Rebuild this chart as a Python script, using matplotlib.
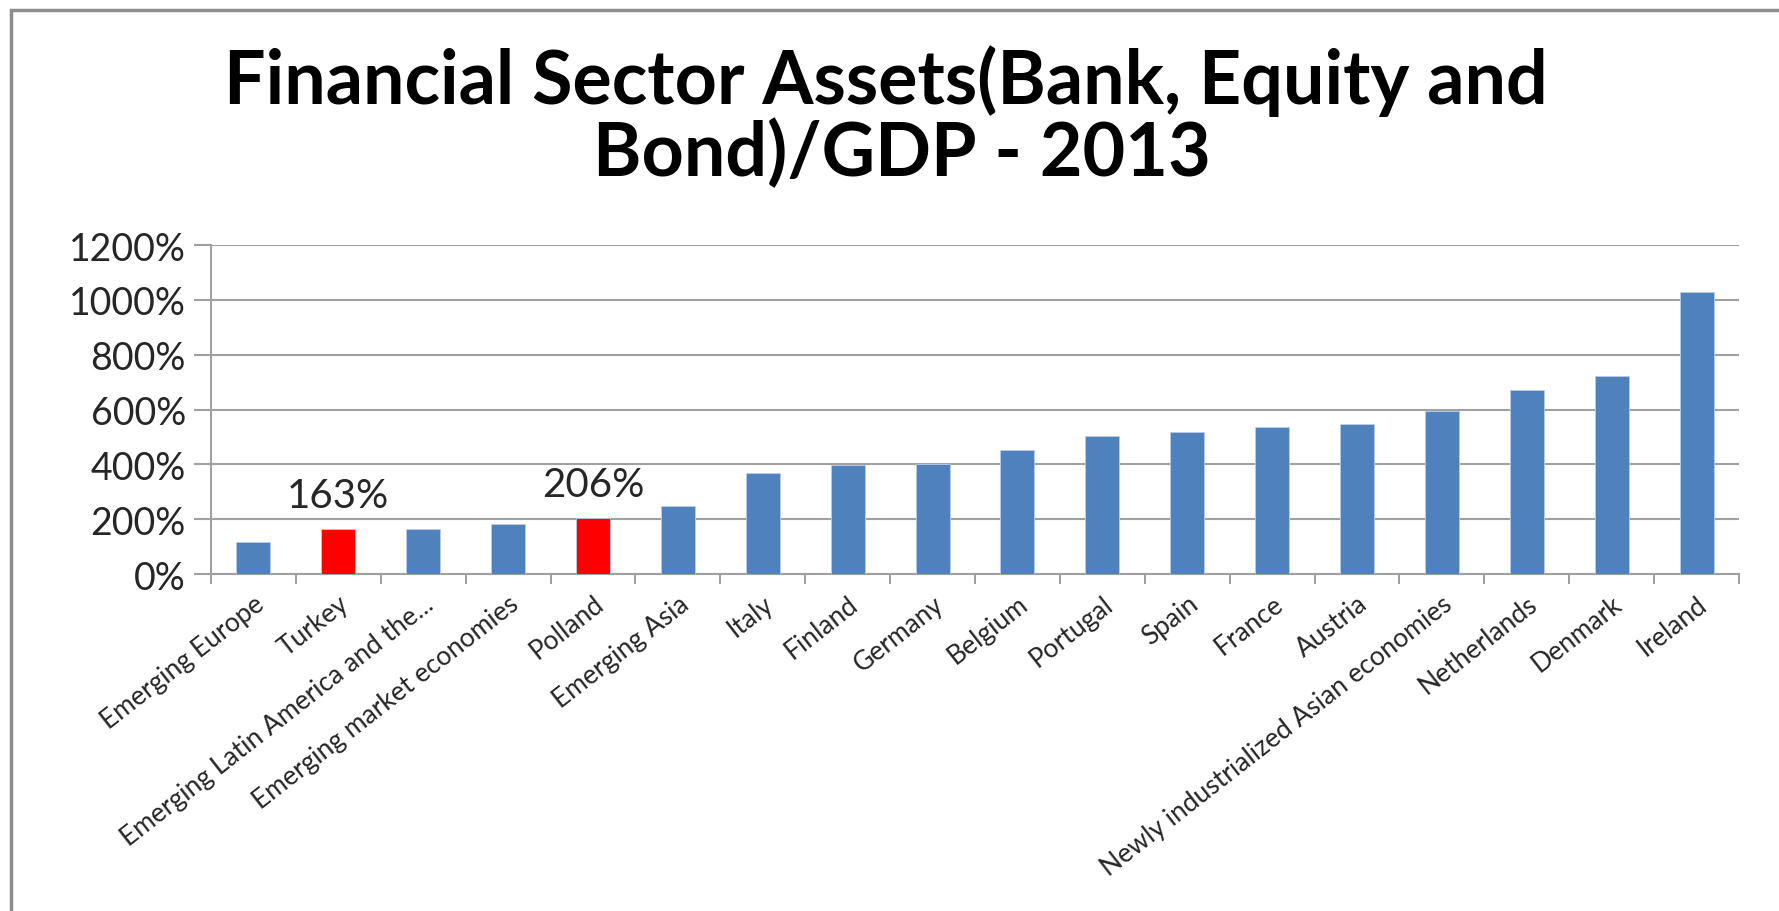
import matplotlib.pyplot as plt
from matplotlib.patches import Rectangle
from matplotlib.ticker import FuncFormatter, FixedLocator
import numpy as np

categories = ['Emerging Europe', 'Turkey', 'Emerging Latin America and the...',
              'Emerging market economies', 'Polland', 'Emerging Asia', 'Italy',
              'Finland', 'Germany', 'Belgium', 'Portugal', 'Spain', 'France',
              'Austria', 'Newly industrialized Asian economies', 'Netherlands',
              'Denmark', 'Ireland']
values = [118, 163, 163, 183, 203, 249, 368, 399, 400, 452, 503, 517, 535,
          548, 595, 670, 723, 1030]
highlight = ['Turkey', 'Polland']
label_text = {'Turkey': '163%', 'Polland': '206%'}

blue = '#4F81BD'
red = '#FF0000'

plt.rcParams['font.family'] = ['Lato', 'DejaVu Sans']

fig = plt.figure(figsize=(17.79, 9.12), dpi=100)
fig.patch.set_facecolor('white')

# outer chart frame (cropped at right/bottom like the screenshot)
fig.patches.append(Rectangle((11 / 1779, -0.05), 1.2, 1 - 11 / 912 + 0.05,
                             transform=fig.transFigure, fill=False,
                             edgecolor='#8c8c8c', linewidth=2.5))

ax = fig.add_axes([211 / 1779, 1 - 575 / 912, (1739 - 211) / 1779, (575 - 246) / 912])

x = np.arange(len(categories))
colors = [red if c in highlight else blue for c in categories]
ax.bar(x, values, width=0.4, color=colors, edgecolor='#B9CDE5', linewidth=0.6, zorder=3)

for i, c in enumerate(categories):
    if c in label_text:
        ax.text(i, values[i] + 125, label_text[c], ha='center', va='center',
                fontsize=29, color='#262626')

ax.set_xlim(-0.5, len(categories) - 0.5)
ax.set_ylim(0, 1200)
ax.set_yticks(np.arange(0, 1201, 200))
ax.yaxis.set_major_formatter(FuncFormatter(lambda v, p: '%d%%' % v))
ax.grid(axis='y', color='#A0A0A0', linewidth=1.5, zorder=0)

ax.set_xticks(x)
ax.set_xticklabels(categories, rotation=38, ha='right', rotation_mode='anchor',
                   fontsize=19, color='#262626')
ax.xaxis.set_minor_locator(FixedLocator(np.arange(-0.5, len(categories), 1)))
ax.tick_params(axis='x', which='major', length=0, pad=12)
ax.tick_params(axis='x', which='minor', length=7, width=1.2, color='#8c8c8c')
ax.tick_params(axis='y', length=12, width=1.5, color='#A0A0A0', labelsize=27,
               labelcolor='#262626', pad=6)

for s in ['top', 'right']:
    ax.spines[s].set_visible(False)
ax.spines['left'].set_color('#A0A0A0')
ax.spines['bottom'].set_color('#A0A0A0')
ax.spines['left'].set_linewidth(1.5)
ax.spines['bottom'].set_linewidth(1.5)

fig.text(0.498, 0.886, 'Financial Sector Assets(Bank, Equity and',
         ha='center', va='baseline', fontsize=53, fontweight='bold')
fig.text(0.507, 0.807, 'Bond)/GDP - 2013',
         ha='center', va='baseline', fontsize=53, fontweight='bold')

fig.savefig('out.png', dpi=100)
